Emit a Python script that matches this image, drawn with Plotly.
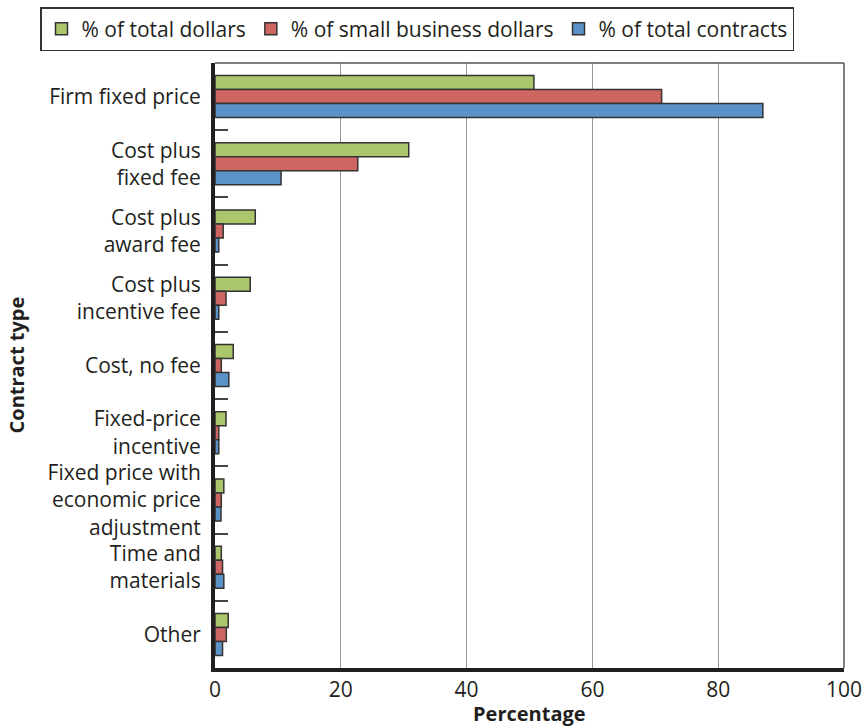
import plotly.graph_objects as go

categories = [
    "Firm fixed price",
    "Cost plus<br>fixed fee",
    "Cost plus<br>award fee",
    "Cost plus<br>incentive fee",
    "Cost, no fee",
    "Fixed-price<br>incentive",
    "Fixed price with<br>economic price<br>adjustment",
    "Time and<br>materials",
    "Other",
]
total_dollars = [50.7, 30.8, 6.4, 5.6, 2.9, 1.75, 1.4, 1.0, 2.1]
small_business_dollars = [71.0, 22.7, 1.3, 1.75, 1.0, 0.6, 1.0, 1.2, 1.8]
total_contracts = [87.1, 10.5, 0.6, 0.6, 2.2, 0.6, 0.95, 1.4, 1.2]

series_names = ["% of total dollars", "% of small business dollars", "% of total contracts"]
series_values = [total_dollars, small_business_dollars, total_contracts]
colors = ["#ABC66B", "#CF6560", "#5B93C9"]

x_title = "Percentage"
y_title = "Contract type"

FONT = "Open Sans"
TXT = "#231F20"

W, H = 866, 727
ML, MT, MR, MB = 215, 63, 22, 59
plot_w = W - ML - MR
plot_h = H - MT - MB

fig = go.Figure()
for name, vals, col in zip(series_names, series_values, colors):
    fig.add_trace(go.Bar(
        y=categories, x=vals, name=name, orientation="h",
        marker=dict(color=col, line=dict(color="#333333", width=1.5)),
    ))

fig.update_layout(
    width=W, height=H,
    margin=dict(l=ML, r=MR, t=MT, b=MB, autoexpand=False),
    paper_bgcolor="white", plot_bgcolor="white",
    barmode="group", bargap=0.375, bargroupgap=0,
    font=dict(family=FONT, size=21, color=TXT),
    showlegend=True,
    legend=dict(
        orientation="h", xref="paper", yref="paper",
        x=(40 - ML) / plot_w, xanchor="left",
        y=1 + (MT - 7) / plot_h, yanchor="top",
        bordercolor="#333333", borderwidth=1.5,
        font=dict(family=FONT, size=21, color=TXT),
        itemwidth=30, tracegroupgap=0,
        traceorder="normal",
    ),
    xaxis=dict(
        range=[0, 100], dtick=20, tick0=0,
        showgrid=True, gridcolor="#999999", gridwidth=1,
        zeroline=False, automargin=False,
        showline=True, linecolor=TXT, linewidth=4,
        ticks="", tickfont=dict(family=FONT, size=21, color=TXT),
        ticklabelstandoff=0, ticklabeloverflow="allow",
    ),
    yaxis=dict(
        type="category", autorange="reversed",
        showgrid=False, zeroline=False, automargin=False,
        showline=True, linecolor=TXT, linewidth=4,
        ticks="inside", tickson="boundaries", ticklen=13, tickwidth=1.5, tickcolor="#444444",
        tickfont=dict(family=FONT, size=21, color=TXT),
        ticklabelstandoff=6,
    ),
    shapes=[
        dict(type="line", xref="paper", yref="paper", x0=0, x1=1, y0=1, y1=1,
             line=dict(color="#555555", width=1.5)),
        dict(type="line", xref="paper", yref="paper", x0=1, x1=1, y0=0, y1=1,
             line=dict(color="#555555", width=1.5)),
    ],
    annotations=[
        dict(text="<b>" + x_title + "</b>", xref="paper", yref="paper", x=0.5, y=0,
             xanchor="center", yanchor="middle", yshift=-45, showarrow=False, borderpad=0,
             font=dict(family=FONT, size=20, color=TXT)),
        dict(text="<b>" + y_title + "</b>", xref="paper", yref="paper", x=0, y=0.5,
             xanchor="center", yanchor="middle", xshift=-(ML - 16), textangle=-90, showarrow=False,
             borderpad=0, font=dict(family=FONT, size=20, color=TXT)),
    ],
)

fig.write_html("out.html", config={"displayModeBar": False},
               post_script="document.body.style.margin='0';")
